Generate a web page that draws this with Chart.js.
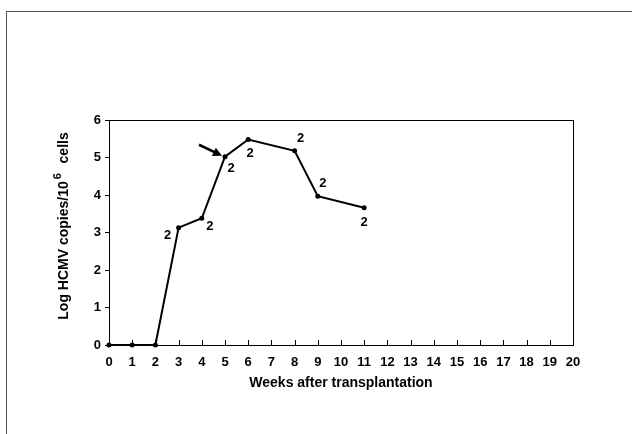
<!DOCTYPE html>
<html>
<head>
<meta charset="utf-8">
<script src="https://cdn.jsdelivr.net/npm/chart.js@4/dist/chart.umd.min.js"></script>
<style>
  body { margin: 0; background: #fff; }
  #wrap { position: relative; width: 632px; height: 434px; }
  #frame { position: absolute; left: 6px; top: 11px; right: 0; bottom: 0;
           border-left: 1px solid #555; border-top: 1px solid #555; }
  canvas { position: absolute; left: 0; top: 0; }
</style>
</head>
<body>
<div id="wrap">
  <div id="frame"></div>
  <canvas id="chart" width="632" height="434"></canvas>
</div>
<script>
// weeks after transplantation and log HCMV copies
const weeks = [0, 1, 2, 3, 4, 5, 6, 8, 9, 11];
const logCopies = [0, 0, 0, 3.13, 3.38, 5.02, 5.48, 5.18, 3.97, 3.66];

// "2" annotations: which week, and pixel offset of the label from the point
const labelWeeks = [3, 4, 5, 6, 8, 9, 11];
const labelOffsets = [[-11, 8], [8, 8], [6, 12], [2, 14], [6, -12], [5, -13], [0, 15]];

const family = '"Liberation Sans", Arial, sans-serif';
const font = 'bold 13px ' + family;

// frame of the plot, inward x ticks, labels, arrow and y title
const extras = {
    id: 'extras',
    afterDraw(chart) {
        const ctx = chart.ctx;
        const a = chart.chartArea;
        const xs = chart.scales.x;
        const ys = chart.scales.y;
        ctx.save();
        ctx.strokeStyle = '#000';
        ctx.lineWidth = 1;
        ctx.strokeRect(a.left + 0.5, a.top + 0.5, a.right - a.left, a.bottom - a.top);

        // x ticks pointing into the plot
        for (let w = 0; w <= 20; w++) {
            const px = Math.round(xs.getPixelForValue(w)) + 0.5;
            ctx.beginPath();
            ctx.moveTo(px, a.bottom);
            ctx.lineTo(px, a.bottom - 5);
            ctx.stroke();
        }

        // "2" labels
        ctx.fillStyle = '#000';
        ctx.font = font;
        ctx.textAlign = 'center';
        ctx.textBaseline = 'middle';
        labelWeeks.forEach((w, i) => {
            const v = logCopies[weeks.indexOf(w)];
            ctx.fillText('2', xs.getPixelForValue(w) + labelOffsets[i][0], ys.getPixelForValue(v) + labelOffsets[i][1]);
        });

        // arrow pointing at week 5
        const tx = xs.getPixelForValue(5) - 3;
        const ty = ys.getPixelForValue(logCopies[5]) - 1;
        const sx = tx - 23, sy = ty - 11;
        const ang = Math.atan2(ty - sy, tx - sx);
        ctx.lineWidth = 2.5;
        ctx.beginPath();
        ctx.moveTo(sx, sy);
        ctx.lineTo(tx - 6 * Math.cos(ang), ty - 6 * Math.sin(ang));
        ctx.stroke();
        ctx.beginPath();
        ctx.moveTo(tx, ty);
        ctx.lineTo(tx - 9 * Math.cos(ang) + 4.5 * Math.sin(ang), ty - 9 * Math.sin(ang) - 4.5 * Math.cos(ang));
        ctx.lineTo(tx - 9 * Math.cos(ang) - 4.5 * Math.sin(ang), ty - 9 * Math.sin(ang) + 4.5 * Math.cos(ang));
        ctx.closePath();
        ctx.fill();

        // y title with superscript
        const tfont = 'bold 14px ' + family;
        const sfont = 'bold 11px ' + family;
        ctx.translate(64, 226);
        ctx.rotate(-Math.PI / 2);
        const p1 = 'Log HCMV copies/10';
        const sup = '6';
        const p2 = '   cells';
        ctx.font = tfont;
        const w1 = ctx.measureText(p1).width;
        const w3 = ctx.measureText(p2).width;
        ctx.font = sfont;
        const w2 = ctx.measureText(sup).width;
        let x0 = -(w1 + w2 + w3) / 2;
        ctx.textAlign = 'left';
        ctx.font = tfont;
        ctx.fillText(p1, x0, 0);
        ctx.font = sfont;
        ctx.fillText(sup, x0 + w1 + 2, -6);
        ctx.font = tfont;
        ctx.fillText(p2, x0 + w1 + w2, 0);
        ctx.restore();
    }
};

new Chart(document.getElementById('chart'), {
    type: 'scatter',
    data: {
        datasets: [{
            data: weeks.map((w, i) => ({ x: w, y: logCopies[i] })),
            showLine: true,
            borderColor: '#000',
            backgroundColor: '#000',
            borderWidth: 2,
            pointRadius: 2.5,
            pointBorderWidth: 0,
            clip: false
        }]
    },
    options: {
        responsive: false,
        animation: false,
        layout: { padding: { left: 0, top: 120, right: 59, bottom: 0 } },
        plugins: { legend: { display: false }, tooltip: { enabled: false } },
        scales: {
            x: {
                type: 'linear',
                min: 0, max: 20,
                afterFit(s) { s.height = 89; },
                border: { color: '#000', width: 1 },
                grid: { display: false },
                ticks: { stepSize: 1, color: '#000', font: { family: family, size: 13, weight: 'bold' }, padding: 2, maxRotation: 0, autoSkip: false },
                title: { display: true, text: 'Weeks after transplantation', color: '#000', font: { family: family, size: 14, weight: 'bold' }, padding: { top: 6, bottom: 42 } }
            },
            y: {
                min: 0, max: 6,
                afterFit(s) { s.width = 109; },
                border: { color: '#000', width: 1 },
                grid: { drawOnChartArea: false, tickLength: 4, color: '#000' },
                ticks: { stepSize: 1, color: '#000', font: { family: family, size: 13, weight: 'bold' }, padding: 4 }
            }
        }
    },
    plugins: [extras]
});
</script>
</body>
</html>
